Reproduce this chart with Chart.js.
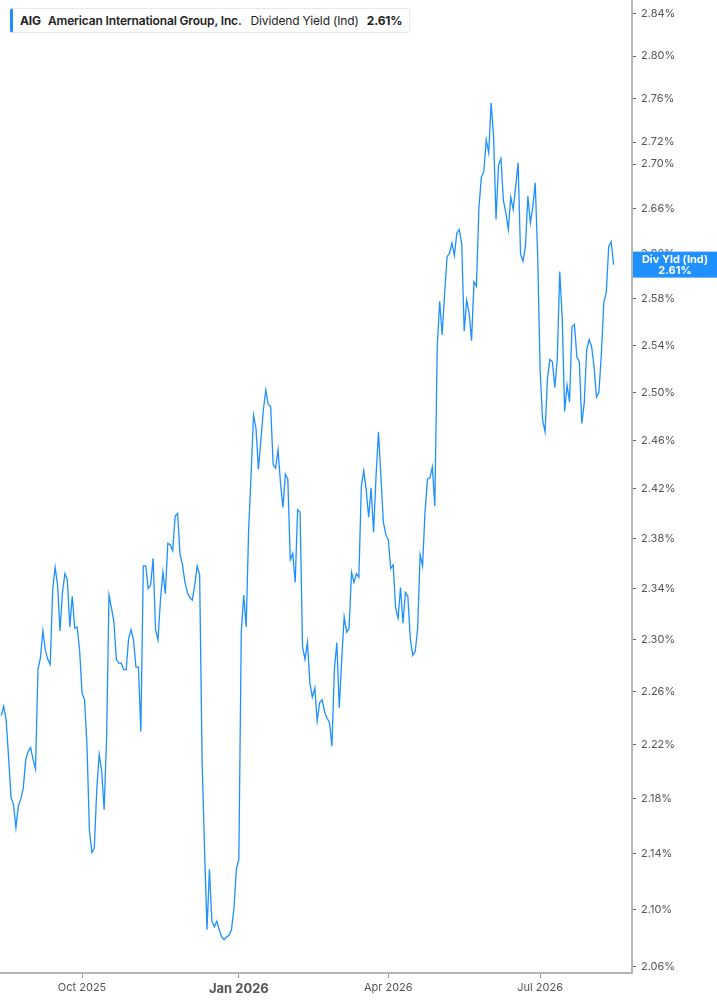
<!DOCTYPE html>
<html>
<head>
<meta charset="utf-8">
<script src="https://cdn.jsdelivr.net/npm/chart.js@4.4.1/dist/chart.umd.min.js"></script>
<style>
  html, body { margin: 0; padding: 0; background: #fff; }
  #wrap { position: relative; width: 717px; height: 1005px; }
  #legend {
    position: absolute; left: 10px; top: 8px; height: 25px;
    box-sizing: border-box; display: flex; align-items: center;
    background: #fff; border: 1px solid #e8e8e8; border-left: 3px solid #1e90ff;
    border-radius: 3px; padding: 0 7px 0 7px;
    font: 12px Inter, sans-serif; color: #222; white-space: nowrap;
    letter-spacing: -0.15px;
  }
  #legend .tk { font-weight: 700; margin-right: 7px; }
  #legend .nm { font-weight: 600; margin-right: 9px; }
  #legend .fld { margin-right: 8px; }
  #legend .val { font-weight: 700; }
</style>
</head>
<body>
<div id="wrap">
  <canvas id="chart" width="717" height="1005"></canvas>
  <div id="legend">
    <span class="tk">AIG</span>
    <span class="nm">American International Group, Inc.</span>
    <span class="fld">Dividend Yield (Ind)</span>
    <span class="val" id="legendVal"></span>
  </div>
</div>
<script>
// daily dividend yield (%), one per trading day starting 2025-08-14
const yieldValues = [
  2.242, 2.249, 2.239, 2.211, 2.181, 2.176, 2.159, 2.175, 2.180, 2.188,
  2.209, 2.215, 2.218, 2.209, 2.202, 2.277, 2.286, 2.307, 2.292, 2.285,
  2.281, 2.339, 2.357, 2.343, 2.307, 2.337, 2.352, 2.347, 2.310, 2.334,
  2.309, 2.310, 2.292, 2.259, 2.254, 2.220, 2.157, 2.141, 2.144, 2.187,
  2.213, 2.201, 2.172, 2.224, 2.335, 2.325, 2.314, 2.285, 2.282, 2.282,
  2.277, 2.277, 2.301, 2.308, 2.300, 2.279, 2.279, 2.230, 2.358, 2.358,
  2.340, 2.343, 2.364, 2.308, 2.300, 2.331, 2.353, 2.336, 2.376, 2.375,
  2.370, 2.398, 2.400, 2.367, 2.359, 2.345, 2.337, 2.333, 2.331, 2.343,
  2.358, 2.351, 2.209, 2.143, 2.086, 2.129, 2.092, 2.088, 2.092, 2.086,
  2.081, 2.079, 2.081, 2.082, 2.086, 2.101, 2.129, 2.136, 2.306, 2.335,
  2.310, 2.387, 2.432, 2.481, 2.470, 2.436, 2.460, 2.485, 2.502, 2.490,
  2.488, 2.440, 2.437, 2.452, 2.425, 2.405, 2.432, 2.428, 2.363, 2.368,
  2.345, 2.403, 2.401, 2.295, 2.285, 2.298, 2.267, 2.256, 2.263, 2.238,
  2.252, 2.254, 2.245, 2.240, 2.237, 2.219, 2.277, 2.298, 2.248, 2.285,
  2.318, 2.306, 2.309, 2.353, 2.345, 2.352, 2.349, 2.422, 2.435, 2.419,
  2.397, 2.421, 2.385, 2.430, 2.467, 2.430, 2.393, 2.383, 2.379, 2.356,
  2.359, 2.325, 2.317, 2.341, 2.313, 2.337, 2.334, 2.301, 2.288, 2.291,
  2.309, 2.367, 2.358, 2.401, 2.428, 2.429, 2.438, 2.406, 2.539, 2.578,
  2.549, 2.584, 2.617, 2.620, 2.629, 2.618, 2.638, 2.641, 2.628, 2.552,
  2.579, 2.568, 2.544, 2.595, 2.591, 2.660, 2.688, 2.693, 2.722, 2.710,
  2.756, 2.725, 2.650, 2.699, 2.705, 2.667, 2.656, 2.641, 2.670, 2.659,
  2.679, 2.701, 2.619, 2.613, 2.626, 2.671, 2.647, 2.661, 2.683, 2.617,
  2.519, 2.477, 2.467, 2.512, 2.528, 2.526, 2.504, 2.529, 2.604, 2.564,
  2.484, 2.506, 2.492, 2.556, 2.558, 2.530, 2.526, 2.474, 2.491, 2.536,
  2.545, 2.539, 2.522, 2.496, 2.500, 2.533, 2.577, 2.586, 2.626, 2.630,
  2.610
];

const yTicks = [2.06, 2.10, 2.14, 2.18, 2.22, 2.26, 2.30, 2.34, 2.38, 2.42, 2.46,
                2.50, 2.54, 2.58, 2.62, 2.66, 2.70, 2.72, 2.76, 2.80, 2.84];
const xTickMonths = ['2025-10', '2026-01', '2026-04', '2026-07'];
const monthNames = ['Jan', 'Feb', 'Mar', 'Apr', 'May', 'Jun', 'Jul', 'Aug', 'Sep', 'Oct', 'Nov', 'Dec'];
const holidays = ['2025-09-01', '2025-11-27', '2025-12-25', '2026-01-01', '2026-01-19',
                  '2026-02-16', '2026-04-03', '2026-05-25', '2026-06-19', '2026-07-03'];
const startDate = '2025-08-14';

// trading days for the series
const dates = [];
let d = new Date(startDate + 'T00:00:00Z');
while (dates.length < yieldValues.length) {
  const iso = d.toISOString().slice(0, 10);
  const wd = d.getUTCDay();
  if (wd !== 0 && wd !== 6 && !holidays.includes(iso)) dates.push(iso);
  d.setUTCDate(d.getUTCDate() + 1);
}

// first trading day of each labelled month
const xTicks = xTickMonths.map(m => dates.findIndex(s => s.startsWith(m)));
const janIdx = xTicks[1];

function monthLabel(idx) {
  const [y, m] = dates[idx].split('-');
  return monthNames[+m - 1] + ' ' + y;
}

const last = yieldValues[yieldValues.length - 1];
document.getElementById('legendVal').textContent = last.toFixed(2) + '%';

const lastValueTag = {
  id: 'lastValueTag',
  afterDraw(chart) {
    const { ctx, chartArea, scales: { y } } = chart;
    const py = y.getPixelForValue(last);
    const left = chartArea.right + 1;
    ctx.save();
    ctx.fillStyle = '#1e90ff';
    ctx.fillRect(left, py - 13, chart.width - left, 26);
    ctx.fillStyle = '#fff';
    ctx.font = 'bold 11px Inter, sans-serif';
    ctx.textAlign = 'center';
    ctx.textBaseline = 'middle';
    const cx = (left + chart.width) / 2;
    ctx.fillText('Div Yld (Ind)', cx, py - 5);
    ctx.fillText(last.toFixed(2) + '%', cx, py + 6);
    ctx.restore();
  }
};

new Chart(document.getElementById('chart'), {
  type: 'line',
  data: {
    datasets: [{
      data: yieldValues.map((v, i) => ({ x: i, y: v })),
      borderColor: '#1e90ff',
      borderWidth: 1.3,
      pointRadius: 0,
      tension: 0,
      fill: false
    }]
  },
  options: {
    responsive: false,
    animation: false,
    layout: { padding: 0 },
    plugins: { legend: { display: false }, tooltip: { enabled: false } },
    scales: {
      x: {
        type: 'linear',
        bounds: 'data',
        min: -0.5,
        max: 257.5,
        grid: { display: true, drawOnChartArea: false, drawTicks: true, tickLength: 5, color: '#999' },
        border: { display: true, color: '#b5b5b5', width: 2 },
        ticks: {
          autoSkip: false,
          maxRotation: 0,
          padding: 3,
          color: '#555',
          font: c => (c.tick && c.tick.value === janIdx)
            ? { family: 'Inter', size: 13, weight: 'bold' }
            : { family: 'Inter', size: 11 },
          callback: v => monthLabel(v)
        },
        afterBuildTicks: s => { s.ticks = xTicks.map(v => ({ value: v })); },
        afterFit: s => { s.height = 32; s.paddingLeft = 0; s.paddingRight = 0; }
      },
      y: {
        type: 'logarithmic',
        position: 'right',
        bounds: 'data',
        min: 2.0558,
        max: 2.8534,
        grid: { display: true, drawOnChartArea: false, drawTicks: true, tickLength: 4, color: '#666' },
        border: { display: true, color: '#b5b5b5', width: 2 },
        ticks: {
          autoSkip: false,
          padding: 5,
          color: '#555',
          font: { family: 'Inter', size: 11 },
          callback: v => v.toFixed(2) + '%'
        },
        afterBuildTicks: s => { s.ticks = yTicks.map(v => ({ value: v })); },
        afterFit: s => { s.width = 85; s.paddingTop = 0; s.paddingBottom = 0; }
      }
    }
  },
  plugins: [lastValueTag]
});
</script>
</body>
</html>
